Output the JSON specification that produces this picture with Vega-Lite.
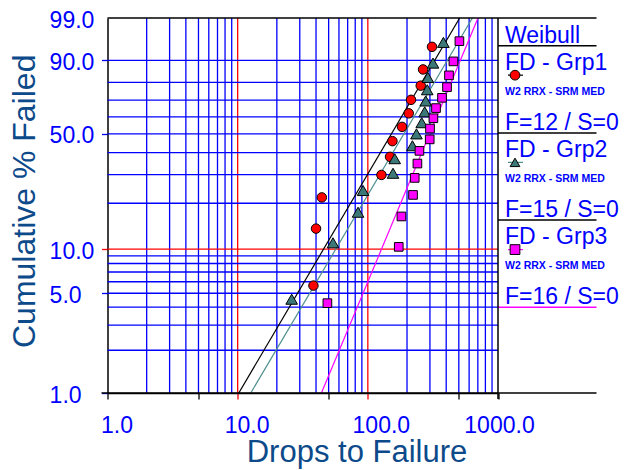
{
  "$schema": "https://vega.github.io/schema/vega-lite/v6.json",
  "width": 489,
  "height": 375,
  "autosize": {"type": "none"},
  "padding": {"left": 107.5, "top": 18, "right": 28.5, "bottom": 77},
  "background": "white",
  "config": {"view": {"stroke": null}, "axis": {"titleFontWeight": "normal"}},
  "datasets": {
    "failures": [
      {"group": "FD - Grp1", "drops": 38.2, "F": 5.645},
      {"group": "FD - Grp1", "drops": 40.0, "F": 13.710},
      {"group": "FD - Grp1", "drops": 44.3, "F": 21.774},
      {"group": "FD - Grp1", "drops": 127.2, "F": 29.839},
      {"group": "FD - Grp1", "drops": 148.1, "F": 37.903},
      {"group": "FD - Grp1", "drops": 154.5, "F": 45.968},
      {"group": "FD - Grp1", "drops": 183.1, "F": 54.032},
      {"group": "FD - Grp1", "drops": 206.2, "F": 62.097},
      {"group": "FD - Grp1", "drops": 214.7, "F": 70.161},
      {"group": "FD - Grp1", "drops": 254.9, "F": 78.226},
      {"group": "FD - Grp1", "drops": 265.5, "F": 86.290},
      {"group": "FD - Grp1", "drops": 311.2, "F": 94.355},
      {"group": "FD - Grp2", "drops": 26.0, "F": 4.545},
      {"group": "FD - Grp2", "drops": 54.0, "F": 11.039},
      {"group": "FD - Grp2", "drops": 84.1, "F": 17.532},
      {"group": "FD - Grp2", "drops": 91.9, "F": 24.026},
      {"group": "FD - Grp2", "drops": 156.1, "F": 30.519},
      {"group": "FD - Grp2", "drops": 160.9, "F": 37.013},
      {"group": "FD - Grp2", "drops": 220.1, "F": 43.506},
      {"group": "FD - Grp2", "drops": 236.3, "F": 50.0},
      {"group": "FD - Grp2", "drops": 259.4, "F": 56.494},
      {"group": "FD - Grp2", "drops": 273.5, "F": 62.987},
      {"group": "FD - Grp2", "drops": 278.4, "F": 69.481},
      {"group": "FD - Grp2", "drops": 286.0, "F": 75.974},
      {"group": "FD - Grp2", "drops": 289.0, "F": 82.468},
      {"group": "FD - Grp2", "drops": 316.8, "F": 88.961},
      {"group": "FD - Grp2", "drops": 380.7, "F": 95.455},
      {"group": "FD - Grp3", "drops": 48.9, "F": 4.268},
      {"group": "FD - Grp3", "drops": 172.8, "F": 10.366},
      {"group": "FD - Grp3", "drops": 181.2, "F": 16.463},
      {"group": "FD - Grp3", "drops": 222.4, "F": 22.561},
      {"group": "FD - Grp3", "drops": 229.2, "F": 28.659},
      {"group": "FD - Grp3", "drops": 240.4, "F": 34.756},
      {"group": "FD - Grp3", "drops": 249.1, "F": 40.854},
      {"group": "FD - Grp3", "drops": 298.8, "F": 46.951},
      {"group": "FD - Grp3", "drops": 300.4, "F": 53.049},
      {"group": "FD - Grp3", "drops": 319.0, "F": 59.146},
      {"group": "FD - Grp3", "drops": 334.0, "F": 65.244},
      {"group": "FD - Grp3", "drops": 371.5, "F": 71.341},
      {"group": "FD - Grp3", "drops": 405.8, "F": 77.439},
      {"group": "FD - Grp3", "drops": 420.4, "F": 83.537},
      {"group": "FD - Grp3", "drops": 454.6, "F": 89.634},
      {"group": "FD - Grp3", "drops": 505.2, "F": 95.732}
    ],
    "fits": [
      {"group": "FD - Grp1", "drops": 10.2, "F": 1},
      {"group": "FD - Grp1", "drops": 507.8, "F": 99},
      {"group": "FD - Grp2", "drops": 12.6, "F": 1},
      {"group": "FD - Grp2", "drops": 636, "F": 99},
      {"group": "FD - Grp3", "drops": 44, "F": 1},
      {"group": "FD - Grp3", "drops": 702, "F": 99}
    ],
    "xgrid": [
      {"drops": 2}, {"drops": 3}, {"drops": 4}, {"drops": 5}, {"drops": 6}, {"drops": 7}, {"drops": 8}, {"drops": 9},
      {"drops": 20}, {"drops": 30}, {"drops": 40}, {"drops": 50}, {"drops": 60}, {"drops": 70}, {"drops": 80}, {"drops": 90},
      {"drops": 200}, {"drops": 300}, {"drops": 400}, {"drops": 500}, {"drops": 600}, {"drops": 700}, {"drops": 800}, {"drops": 900},
      {"drops": 10}, {"drops": 100}
    ],
    "ygrid": [
      {"F": 2}, {"F": 3}, {"F": 4}, {"F": 5}, {"F": 6}, {"F": 7}, {"F": 8}, {"F": 9},
      {"F": 20}, {"F": 30}, {"F": 40}, {"F": 50}, {"F": 60}, {"F": 70}, {"F": 80}, {"F": 90},
      {"F": 10}
    ],
    "groups": [
      {"group": "FD - Grp1", "method": "W2 RRX - SRM MED", "stat": "F=12 / S=0"},
      {"group": "FD - Grp2", "method": "W2 RRX - SRM MED", "stat": "F=15 / S=0"},
      {"group": "FD - Grp3", "method": "W2 RRX - SRM MED", "stat": "F=16 / S=0"}
    ]
  },
  "layer": [
    {
      "layer": [
        {
          "data": {"name": "xgrid"},
          "mark": {"type": "rule", "strokeWidth": 1.3},
          "encoding": {
            "x": {"field": "drops", "type": "quantitative"},
            "stroke": {"condition": {"test": "datum.drops == 10 || datum.drops == 100", "value": "#FF0000"}, "value": "#0000FF"}
          }
        },
        {
          "data": {"name": "ygrid"},
          "transform": [{"calculate": "log(-log(1 - datum.F/100))", "as": "wy"}],
          "mark": {"type": "rule", "strokeWidth": 1.3},
          "encoding": {
            "y": {"field": "wy", "type": "quantitative"},
            "x": {"datum": 1},
            "x2": {"datum": 1000},
            "stroke": {"condition": {"test": "datum.F == 10", "value": "#FF0000"}, "value": "#0000FF"}
          }
        },
        {
          "data": {"name": "fits"},
          "transform": [{"calculate": "log(-log(1 - datum.F/100))", "as": "wy"}],
          "mark": {"type": "line", "strokeWidth": 1.2, "clip": true},
          "encoding": {
            "x": {
              "field": "drops", "type": "quantitative",
              "scale": {"type": "log", "domain": [1, 1000], "range": [0, 390.5], "nice": false},
              "axis": {
                "values": [1, 5, 10, 50, 100, 500, 1000],
                "grid": false,
                "domain": true, "domainColor": "#000000", "domainWidth": 1.5,
                "ticks": true, "tickSize": 6, "tickWidth": 1.3,
                "tickColor": {"condition": {"test": "datum.value == 10 || datum.value == 100", "value": "#FF0000"}, "value": "#000000"},
                "labelExpr": "indexof([1,10,100,1000], datum.value) >= 0 ? format(datum.value, '.1f') : ''",
                "labelFont": "Liberation Sans", "labelFontSize": 23, "labelColor": "#0000FF",
                "labelBaseline": "alphabetic", "labelPadding": 33, "labelAlign": "center",
                "labelOffset": {"condition": [{"test": "datum.value == 100", "value": 13}, {"test": "datum.value == 1000", "value": 1}], "value": 9},
                "labelFlush": false, "labelOverlap": false, "labelBound": false,
                "title": "Drops to Failure",
                "titleFont": "Liberation Sans", "titleFontSize": 31, "titleColor": "#0D4A8A",
                "titleX": 249, "titleY": 68.5, "titleAlign": "center", "titleBaseline": "alphabetic"
              }
            },
            "y": {
              "field": "wy", "type": "quantitative",
              "scale": {"domain": [-4.600149, 1.527180], "nice": false, "zero": false},
              "axis": {
                "values": [-4.600149, -2.970195, -2.250368, -0.366513, 0.834032, 1.527180],
                "grid": false,
                "domain": true, "domainColor": "#000000", "domainWidth": 1.5,
                "ticks": true, "tickSize": 6, "tickWidth": 1.3,
                "tickColor": {"condition": {"test": "datum.value < -2.2 && datum.value > -2.3", "value": "#FF0000"}, "value": "#0000FF"},
                "tickOpacity": {"condition": {"test": "datum.value > 1.5", "value": 0}, "value": 1},
                "labelExpr": "format(round(100*(1-exp(-exp(datum.value)))), '.1f')",
                "labelFont": "Liberation Sans", "labelFontSize": 23, "labelColor": "#0000FF",
                "labelAlign": "left", "labelBaseline": "middle", "labelPadding": 52.4, "labelOffset": 2,
                "labelFlush": false, "labelOverlap": false, "labelBound": false,
                "title": "Cumulative % Failed",
                "titleFont": "Liberation Sans", "titleFontSize": 32, "titleColor": "#0D4A8A",
                "titleAngle": 270, "titleX": -72.7, "titleY": 182.8, "titleAlign": "center", "titleBaseline": "alphabetic"
              }
            },
            "stroke": {
              "field": "group", "type": "nominal",
              "scale": {"domain": ["FD - Grp1", "FD - Grp2", "FD - Grp3"], "range": ["#000000", "#4F8F8F", "#FF00FF"]},
              "legend": null
            }
          }
        },
        {
          "data": {"name": "failures"},
          "transform": [{"filter": "datum.group == 'FD - Grp1'"}, {"calculate": "log(-log(1 - datum.F/100))", "as": "wy"}],
          "mark": {"type": "point", "shape": "circle", "filled": true, "fill": "#FF0000", "stroke": "#000000", "strokeWidth": 1, "opacity": 1, "size": 90},
          "encoding": {"x": {"field": "drops", "type": "quantitative"}, "y": {"field": "wy", "type": "quantitative"}}
        },
        {
          "data": {"name": "failures"},
          "transform": [{"filter": "datum.group == 'FD - Grp2'"}, {"calculate": "log(-log(1 - datum.F/100))", "as": "wy"}],
          "mark": {"type": "point", "shape": "triangle-up", "filled": true, "fill": "#3D7878", "stroke": "#000000", "strokeWidth": 1, "opacity": 1, "size": 135},
          "encoding": {"x": {"field": "drops", "type": "quantitative"}, "y": {"field": "wy", "type": "quantitative"}}
        },
        {
          "data": {"name": "failures"},
          "transform": [{"filter": "datum.group == 'FD - Grp3'"}, {"calculate": "log(-log(1 - datum.F/100))", "as": "wy"}],
          "mark": {"type": "point", "shape": "square", "filled": true, "fill": "#FF00FF", "stroke": "#000000", "strokeWidth": 1, "opacity": 1, "size": 75},
          "encoding": {"x": {"field": "drops", "type": "quantitative"}, "y": {"field": "wy", "type": "quantitative"}}
        }
      ]
    },
    {
      "layer": [
        {
          "data": {"name": "groups"},
          "mark": {"type": "text", "align": "left", "baseline": "alphabetic", "font": "Liberation Sans", "fontSize": 23, "color": "#0000FF"},
          "encoding": {
            "x": {"value": 397.5},
            "y": {
              "field": "group", "type": "nominal", "bandPosition": 0.279,
              "scale": {"type": "band", "domain": ["FD - Grp1", "FD - Grp2", "FD - Grp3"], "range": [27.7, 289.3], "paddingInner": 0, "paddingOuter": 0},
              "axis": null
            },
            "text": {"field": "group"}
          }
        },
        {
          "data": {"name": "groups"},
          "mark": {"type": "rule", "strokeWidth": 1.2},
          "encoding": {
            "x": {"value": 400.5}, "x2": {"value": 415.5},
            "y": {"field": "group", "type": "nominal", "bandPosition": 0.338},
            "stroke": {"field": "group", "type": "nominal", "legend": null}
          }
        },
        {
          "data": {"name": "groups"},
          "mark": {"type": "point", "filled": true, "stroke": "#000000", "strokeWidth": 1, "opacity": 1, "size": 95},
          "encoding": {
            "x": {"value": 407.5},
            "y": {"field": "group", "type": "nominal", "bandPosition": 0.338},
            "shape": {
              "field": "group", "type": "nominal",
              "scale": {"domain": ["FD - Grp1", "FD - Grp2", "FD - Grp3"], "range": ["circle", "triangle-up", "square"]},
              "legend": null
            },
            "fill": {
              "field": "group", "type": "nominal",
              "scale": {"domain": ["FD - Grp1", "FD - Grp2", "FD - Grp3"], "range": ["#FF0000", "#3D7878", "#FF00FF"]},
              "legend": null
            }
          }
        },
        {
          "data": {"name": "groups"},
          "mark": {"type": "text", "align": "left", "baseline": "alphabetic", "font": "Liberation Sans", "fontSize": 10.5, "fontWeight": "bold", "color": "#0000FF"},
          "encoding": {
            "x": {"value": 397.5},
            "y": {"field": "group", "type": "nominal", "bandPosition": 0.562},
            "text": {"field": "method"}
          }
        },
        {
          "data": {"name": "groups"},
          "mark": {"type": "text", "align": "left", "baseline": "alphabetic", "font": "Liberation Sans", "fontSize": 23, "color": "#0000FF"},
          "encoding": {
            "x": {"value": 397.5},
            "y": {"field": "group", "type": "nominal", "bandPosition": 0.963},
            "text": {"field": "stat"}
          }
        },
        {
          "data": {"name": "groups"},
          "mark": {"type": "rule", "strokeWidth": 1.5},
          "encoding": {
            "x": {"value": 390.5}, "x2": {"value": 489},
            "y": {"field": "group", "type": "nominal", "bandPosition": 1},
            "stroke": {"condition": {"test": "datum.group == 'FD - Grp3'", "value": "#FF00FF"}, "value": "#000000"}
          }
        },
        {
          "data": {"values": [{"title": "Weibull"}]},
          "mark": {"type": "text", "align": "left", "baseline": "alphabetic", "font": "Liberation Sans", "fontSize": 23, "color": "#0000FF"},
          "encoding": {"x": {"value": 397.5}, "y": {"value": 25.3}, "text": {"field": "title"}}
        },
        {
          "data": {"values": [{"edge": "top"}]},
          "mark": {"type": "rule", "strokeWidth": 1.5, "color": "#000000"},
          "encoding": {"x": {"value": 0}, "x2": {"value": 489}, "y": {"value": 0}}
        },
        {
          "data": {"values": [{"edge": "header"}]},
          "mark": {"type": "rule", "strokeWidth": 1.5, "color": "#000000"},
          "encoding": {"x": {"value": 390.5}, "x2": {"value": 489}, "y": {"value": 27.7}}
        },
        {
          "data": {"values": [{"edge": "bottom"}]},
          "mark": {"type": "rule", "strokeWidth": 1.5, "color": "#000000"},
          "encoding": {"x": {"value": -6}, "x2": {"value": 489}, "y": {"value": 375}}
        },
        {
          "data": {"values": [{"edge": "right"}]},
          "mark": {"type": "rule", "strokeWidth": 1.5, "color": "#000000"},
          "encoding": {"x": {"value": 390.5}, "y": {"value": 0}, "y2": {"value": 381}}
        }
      ]
    }
  ],
  "resolve": {"scale": {"y": "independent"}}
}
